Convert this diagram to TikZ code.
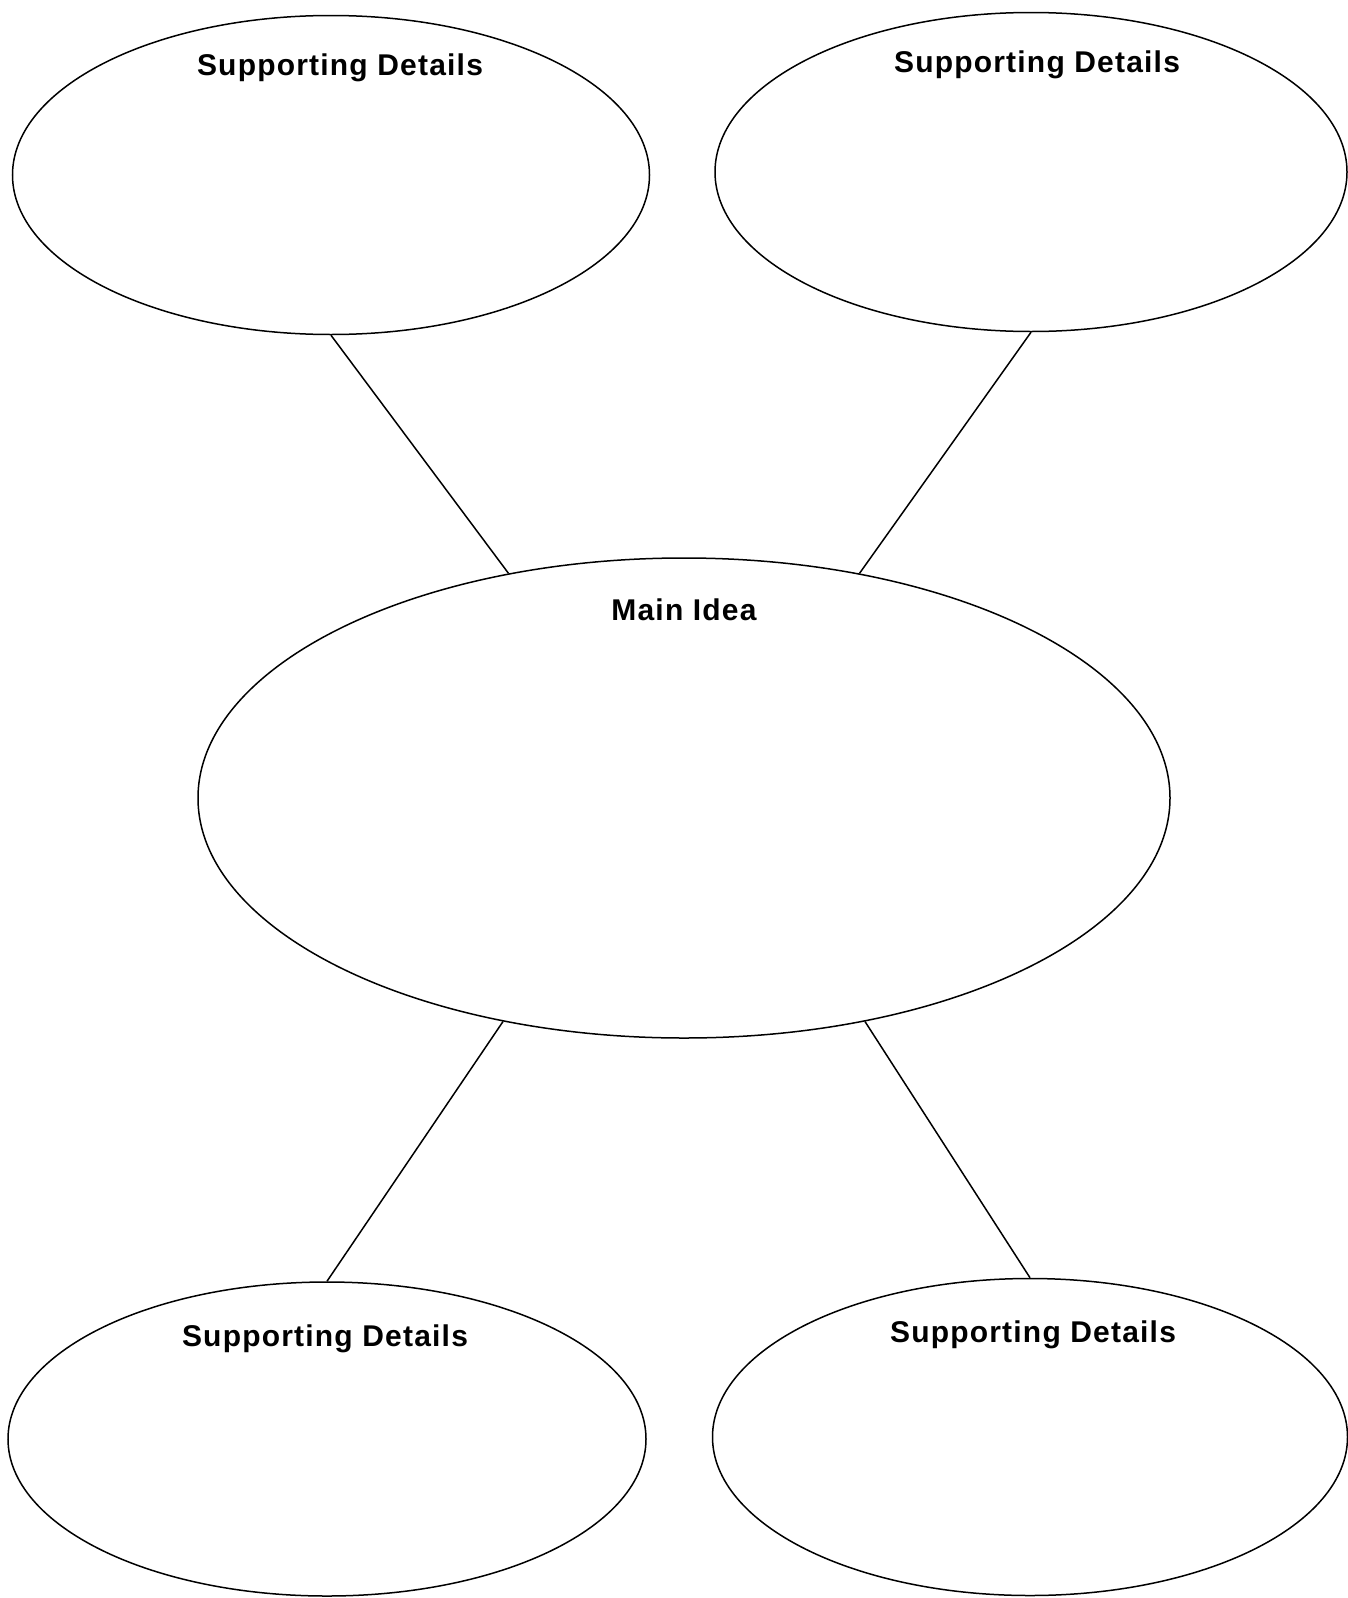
\documentclass[tikz,border=0pt]{standalone}
\usepackage{fontspec}
\setmainfont{Liberation Sans}
\newfontfamily\lblfont[LetterSpace=4]{Liberation Sans}
\usetikzlibrary{shapes.geometric}
\tikzset{
  bubble/.style={draw=black, line width=1.5pt, ellipse, inner sep=0pt},
  lbl/.style={font=\lblfont\fontsize{30}{30}\selectfont\bfseries, inner sep=0pt, anchor=center},
  link/.style={draw=black, line width=1.5pt}
}
\begin{document}
\begin{tikzpicture}[x=1pt,y=-1pt]
\useasboundingbox (0,0) rectangle (1347,1598);
\node[bubble, minimum width=637pt, minimum height=319pt] (tl) at (331,175) {};
\node[bubble, minimum width=632pt, minimum height=319pt] (tr) at (1031,172) {};
\node[bubble, minimum width=972pt, minimum height=480pt] (main) at (684,798) {};
\node[bubble, minimum width=638pt, minimum height=314pt] (bl) at (327,1439) {};
\node[bubble, minimum width=635pt, minimum height=317pt] (br) at (1030,1437) {};
\node[lbl] (tlt) at (340,68) {Supporting Details};
\node[lbl] (trt) at (1037,65) {Supporting Details};
\node[lbl] (mt) at (684,610) {Main Idea};
\node[lbl] (blt) at (325,1339) {Supporting Details};
\node[lbl] (brt) at (1033,1335) {Supporting Details};
\draw[link] (tl.south) -- (main.128);
\draw[link] (tr.south) -- (main.52);
\draw[link] (bl.north) -- (main.231);
\draw[link] (br.north) -- (main.309);
\end{tikzpicture}
\end{document}
